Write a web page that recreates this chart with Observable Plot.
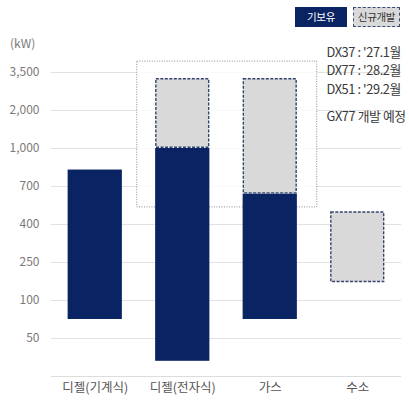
<!DOCTYPE html>
<html><head><meta charset="utf-8">
<script src="https://cdn.jsdelivr.net/npm/d3@7"></script>
<script src="https://cdn.jsdelivr.net/npm/@observablehq/plot@0.6"></script>
<style>
body{margin:0;background:#fff;font-family:"Noto Sans CJK KR","Noto Sans",sans-serif;}
#wrap{position:relative;width:409px;height:401px;overflow:hidden;}
.lg{position:absolute;top:7px;height:20px;line-height:20px;font-size:10.5px;text-align:center;box-sizing:border-box;letter-spacing:-0.3px;}
#unit{position:absolute;left:10px;top:34px;font-size:12px;color:#7a7a7a;}
.anno text{letter-spacing:-0.4px;}
</style></head>
<body><div id="wrap">
<div class="lg" style="left:295px;width:52px;background:#0a2463;color:#fff;">기보유</div>
<div class="lg" style="left:353px;width:47px;background:#d9d9d9;border:1.5px dashed #3a4a75;color:#333;line-height:17px;">신규개발</div>
<div id="unit">(kW)</div>
</div>
<script>
const categories = ["디젤(기계식)", "디젤(전자식)", "가스", "수소"];
const yTicks = [50, 100, 250, 400, 700, 1000, 2000, 3500];
const yLevels = [0, 50, 100, 250, 400, 700, 1000, 2000, 3500];
// existing (기보유) ranges, kW
const existingLow  = [75, 20, 75, null];
const existingHigh = [830, 1000, 640, null];
// new development (신규개발) ranges, kW
const newLow  = [null, 1000, 640, 170];
const newHigh = [null, 3260, 3260, 500];
// dotted highlight box around diesel(electronic) and gas
const boxCats = [1, 2];
const boxLow = 535, boxHigh = 3930;
const annoLines = ["DX37 : '27.1월", "DX77 : '28.2월", "DX51 : '29.2월"];
const annoGas = "GX77 개발 예정";

const halfW = 0.31;
const existing = categories.map((c, i) => ({i, lo: existingLow[i], hi: existingHigh[i]})).filter(d => d.lo != null);
const newer = categories.map((c, i) => ({i, lo: newLow[i], hi: newHigh[i]})).filter(d => d.lo != null);
const box = [{x1: boxCats[0] - 0.52, x2: boxCats[1] + 0.537, lo: boxLow, hi: boxHigh}];

const navy = "#0a2463";
const chart = Plot.plot({
  width: 409, height: 401,
  marginLeft: 51, marginRight: 8, marginTop: 72, marginBottom: 25,
  style: {fontFamily: '"Noto Sans CJK KR","Noto Sans",sans-serif', overflow: "visible", background: "transparent"},
  x: {type: "linear", domain: [-0.5, 3.5], axis: null},
  y: {type: "linear", domain: yLevels, axis: null},
  marks: [
    Plot.gridY(yTicks, {stroke: "#e2e2e2", strokeOpacity: 1, strokeWidth: 1}),
    Plot.ruleY([0], {stroke: "#dcdcdc", strokeWidth: 1}),
    Plot.rect(box, {x1: "x1", x2: "x2", y1: "lo", y2: "hi", fill: "#fff", fillOpacity: 0.8, stroke: "#8a8a8a", strokeWidth: 1, strokeDasharray: "1,1.5"}),
    Plot.rect(existing, {x1: d => d.i - halfW, x2: d => d.i + halfW, y1: "lo", y2: "hi", fill: navy}),
    Plot.rect(newer, {x1: d => d.i - halfW, x2: d => d.i + halfW, y1: "lo", y2: "hi", fill: "#d9d9d9", stroke: "#33446f", strokeWidth: 1.4, strokeDasharray: "3,1.5", inset: 0.7}),
    Plot.axisY(yTicks, {tickSize: 0, tickPadding: 12, tickFormat: d => d3.format(",")(d), fontSize: 12, fill: "#7a7a7a", label: null}),
    Plot.axisX([0, 1, 2, 3], {tickSize: 0, tickPadding: 7, tickFormat: i => categories[i], fontSize: 12.5, fill: "#555", label: null}),
    Plot.text([annoLines.join("\n")], {className: "anno", frameAnchor: "top-right", textAnchor: "start", lineAnchor: "middle", dx: -75, dy: -3, lineHeight: 1.45, fontSize: 12.8, fill: "#3a3a3a"}),
    Plot.text([annoGas], {className: "anno", frameAnchor: "top-right", textAnchor: "start", lineAnchor: "middle", dx: -75, dy: 44, fontSize: 12.8, fill: "#3a3a3a"})
  ]
});
chart.style.position = "absolute";
chart.style.left = "0";
chart.style.top = "0";
document.getElementById("wrap").prepend(chart);
</script>
</body></html>
